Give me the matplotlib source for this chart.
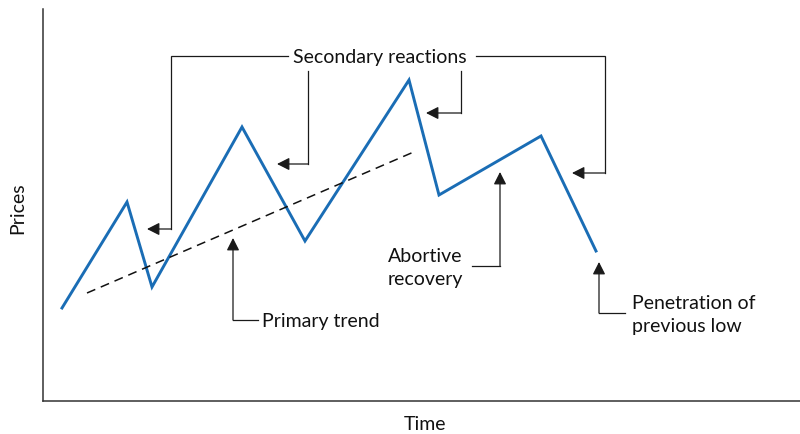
import matplotlib
matplotlib.use("Agg")
import matplotlib.pyplot as plt

# Price path (time, price) of the idealised swing
time_pts = [62, 127, 152, 242, 305, 409, 439, 541, 596]
price_pts = [126, 232, 147, 307, 193, 354, 239, 298, 183]

# Primary trend line endpoints
trend_time = [87, 416]
trend_price = [141, 283]

plt.rcParams["font.family"] = ["Lato", "DejaVu Sans"]

W, H = 800, 435
fig = plt.figure(figsize=(W / 100, H / 100), dpi=100)
ax = fig.add_axes([43 / W, 33 / H, 757 / W, 392 / H])
ax.set_xlim(43, 800)
ax.set_ylim(33, 425)
for s in ("top", "right"):
    ax.spines[s].set_visible(False)
for s in ("left", "bottom"):
    ax.spines[s].set_color("#333333")
    ax.spines[s].set_linewidth(1.1)
ax.set_xticks([])
ax.set_yticks([])

blue = "#1a6db5"
ink = "#1a1a1a"
fs = 14

ax.plot(time_pts, price_pts, color=blue, lw=2.1, solid_joinstyle="miter")
ax.plot(trend_time, trend_price, color="#111111", lw=1.1, ls=(0, (5.9, 3.9)))

arrow_kw = dict(arrowstyle="-|>,head_length=0.75,head_width=0.38",
                color=ink, lw=0.9, shrinkA=0, shrinkB=0, mutation_scale=10)


def callout(path):
    """Draw an elbow connector whose last segment ends in an arrowhead."""
    xs = [p[0] for p in path[:-1]]
    ys = [p[1] for p in path[:-1]]
    ax.plot(xs, ys, color=ink, lw=0.9, solid_joinstyle="miter")
    ax.annotate("", xy=path[-1], xytext=path[-2], arrowprops=arrow_kw)


# Secondary reactions
ax.text(380, 378, "Secondary reactions", ha="center", va="center", fontsize=fs, color="#111111")
callout([(288, 378), (171, 378), (171, 205), (147, 205)])
callout([(308, 363), (308, 270), (277, 270)])
callout([(461, 363), (461, 321), (426, 321)])
callout([(476, 378), (605, 378), (605, 261), (572, 261)])

# Abortive recovery
ax.text(388, 167, "Abortive\nrecovery", ha="left", va="center", fontsize=fs,
        color="#111111", linespacing=1.45)
callout([(472, 168), (500, 168), (500, 262)])

# Penetration of previous low
ax.text(632, 120, "Penetration of\nprevious low", ha="left", va="center", fontsize=fs,
        color="#111111", linespacing=1.45)
callout([(625, 121), (599, 121), (599, 172)])

# Primary trend
ax.text(262, 114, "Primary trend", ha="left", va="center", fontsize=fs, color="#111111")
callout([(258, 114), (233, 114), (233, 196)])

fig.text(18 / W, 1 - 208 / H, "Prices", rotation=90, ha="center", va="center",
         fontsize=fs, color="#111111")
fig.text(425 / W, 1 - 425 / H, "Time", ha="center", va="center", fontsize=fs, color="#111111")

fig.savefig("out.png", dpi=100)
